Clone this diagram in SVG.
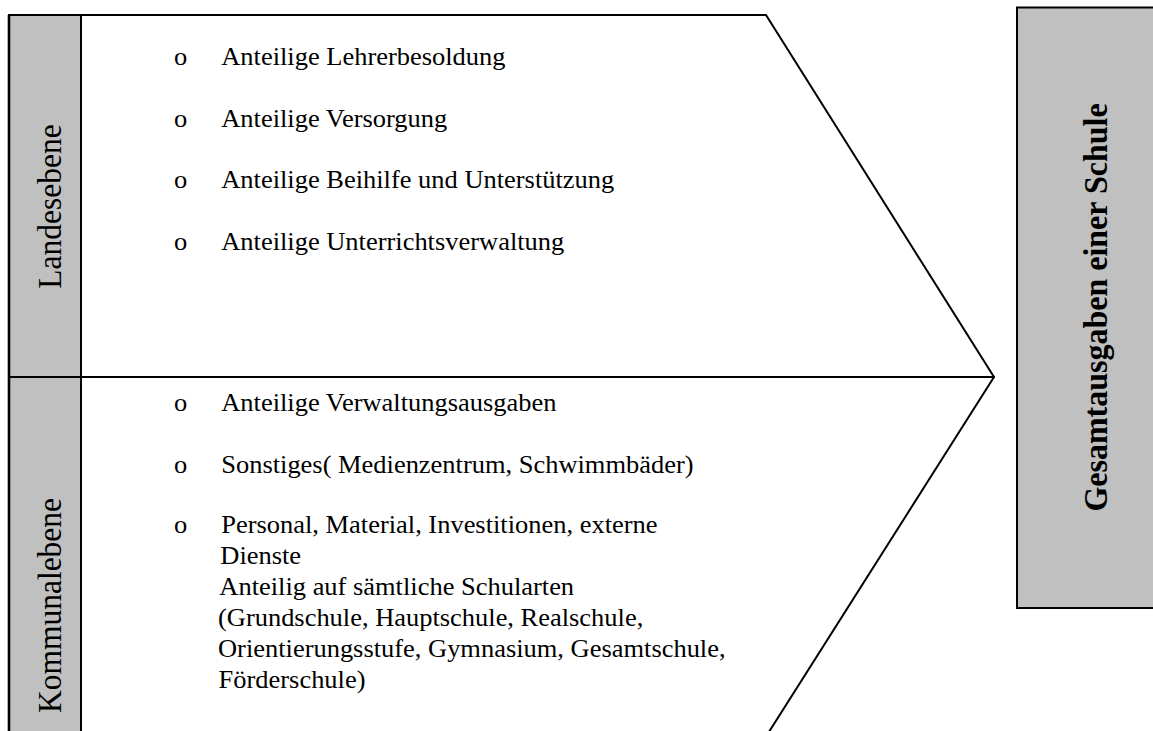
<svg xmlns="http://www.w3.org/2000/svg" width="1153" height="731" viewBox="0 0 1153 731">
<style>
.ln{fill:none;stroke:#000;stroke-width:2;stroke-linejoin:miter;stroke-linecap:square}
.gray{fill:#c0c0c0}
.t{font-family:"Liberation Serif","Times New Roman",serif;font-size:25.2px;fill:#000}
.lab{font-family:"Liberation Serif","Times New Roman",serif;font-size:31.5px;fill:#000;text-anchor:middle}
.big{font-family:"Liberation Serif","Times New Roman",serif;font-size:32px;font-weight:bold;fill:#000;text-anchor:middle}
</style>
<rect x="0" y="0" width="1153" height="731" fill="#fff"/>
<g id="frame">
  <rect class="gray" x="9" y="15" width="72" height="720"/>
  <path class="ln" d="M9,740 L9,15 L766,15 L994,377 L767,735"/>
  <line class="ln" x1="81" y1="15" x2="81" y2="740"/>
  <line class="ln" x1="9" y1="377" x2="994" y2="377"/>
  <line x1="9" y1="15" x2="9" y2="740" stroke="#000" stroke-width="2.6"/>
</g>
<g id="landesebene">
  <text class="lab" transform="translate(61,206.5) scale(1.05,1) rotate(-90)" x="0" y="0">Landesebene</text>
  <g transform="scale(1.05,1)">
    <text class="t" x="165.7" y="65">o</text>
    <text class="t" x="210.7" y="65">Anteilige Lehrerbesoldung</text>
    <text class="t" x="165.7" y="127">o</text>
    <text class="t" x="210.7" y="127">Anteilige Versorgung</text>
    <text class="t" x="165.7" y="188">o</text>
    <text class="t" x="210.7" y="188">Anteilige Beihilfe und Unterstützung</text>
    <text class="t" x="165.7" y="250">o</text>
    <text class="t" x="210.7" y="250">Anteilige Unterrichtsverwaltung</text>
  </g>
</g>
<g id="kommunalebene">
  <text class="lab" transform="translate(61,605.5) scale(1.05,1) rotate(-90)" x="0" y="0">Kommunalebene</text>
  <g transform="scale(1.05,1)">
    <text class="t" x="165.7" y="411">o</text>
    <text class="t" x="210.7" y="411">Anteilige Verwaltungsausgaben</text>
    <text class="t" x="165.7" y="473">o</text>
    <text class="t" x="210.7" y="473">Sonstiges( Medienzentrum, Schwimmbäder)</text>
    <text class="t" x="165.7" y="533">o</text>
    <text class="t" x="210.7" y="533">Personal, Material, Investitionen, externe</text>
    <text class="t" x="209.8" y="564">Dienste</text>
    <text class="t" x="208.9" y="595">Anteilig auf sämtliche Schularten</text>
    <text class="t" x="207.6" y="626">(Grundschule, Hauptschule, Realschule,</text>
    <text class="t" x="207.6" y="657">Orientierungsstufe, Gymnasium, Gesamtschule,</text>
    <text class="t" x="208.2" y="688">Förderschule)</text>
  </g>
</g>
<g id="gesamtausgaben">
  <rect class="gray" x="1017" y="7.5" width="145" height="600.5" stroke="#000" stroke-width="2"/>
  <text class="big" transform="translate(1107,307.5) scale(1.05,1) rotate(-90)" x="0" y="0">Gesamtausgaben einer Schule</text>
</g>
<g id="connectors"></g>
</svg>
